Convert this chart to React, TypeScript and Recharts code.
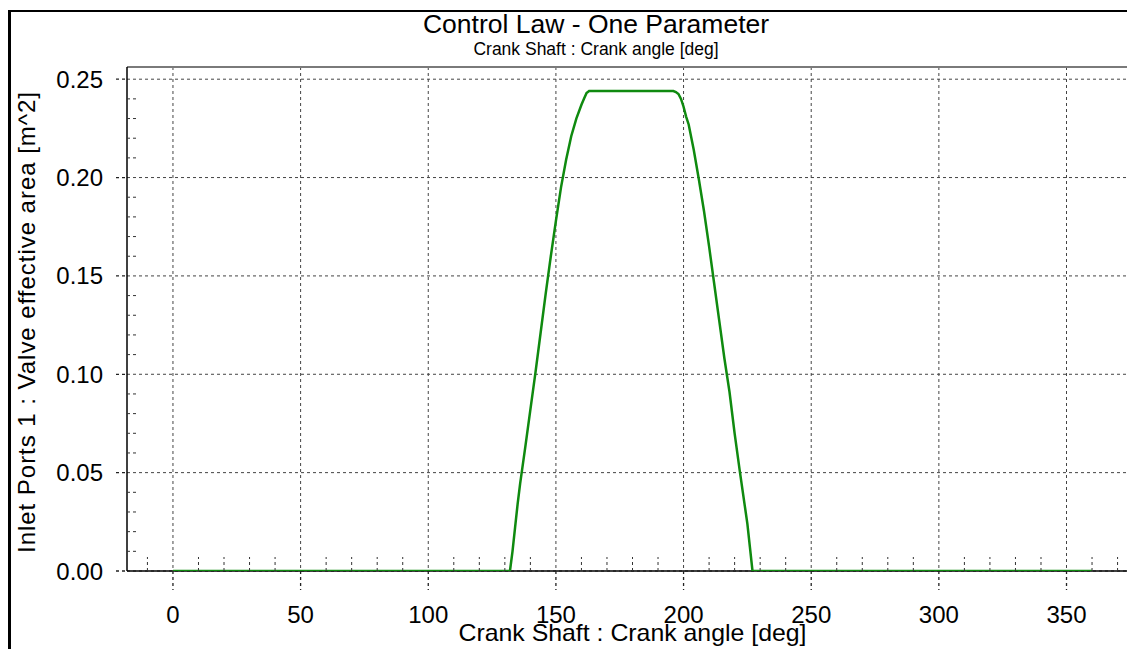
import React from 'react';
import { LineChart, Line, XAxis, YAxis, CartesianGrid, ReferenceLine } from 'recharts';

const crankAngle = [
  0, 132, 133, 134, 135, 136, 138, 140, 142, 144, 146, 148, 150, 152, 154, 156, 158, 160, 161, 162, 163,
  196, 197, 198, 199, 200, 201, 202, 204, 206, 208, 210, 212, 214, 216, 218, 220, 222, 224, 225, 226, 227, 360,
];
const valveArea = [
  0, 0, 0.010, 0.022, 0.034, 0.0445, 0.063, 0.082, 0.101, 0.121, 0.141, 0.160, 0.178, 0.195, 0.209, 0.221, 0.230, 0.237, 0.240, 0.243, 0.244,
  0.244, 0.2435, 0.2425, 0.240, 0.236, 0.231, 0.227, 0.214, 0.199, 0.183, 0.165, 0.146, 0.127, 0.108, 0.091, 0.070, 0.051, 0.033, 0.024, 0.012, 0, 0,
];

const xMajorTicks = [0, 50, 100, 150, 200, 250, 300, 350];
const xAllTicks = [-10, 0, 10, 20, 30, 40, 50, 60, 70, 80, 90, 100, 110, 120, 130, 140, 150, 160, 170, 180, 190, 200, 210, 220, 230, 240, 250, 260, 270, 280, 290, 300, 310, 320, 330, 340, 350, 360, 370];
const yMajorTicks = [0, 0.05, 0.1, 0.15, 0.2, 0.25];
const yAllTicks = [0, 0.01, 0.02, 0.03, 0.04, 0.05, 0.06, 0.07, 0.08, 0.09, 0.1, 0.11, 0.12, 0.13, 0.14, 0.15, 0.16, 0.17, 0.18, 0.19, 0.2, 0.21, 0.22, 0.23, 0.24, 0.25];
const xDomain: [number, number] = [-18, 378];
const yDomain: [number, number] = [0, 0.2562];

const title = 'Control Law - One Parameter';
const subtitle = 'Crank Shaft : Crank angle [deg]';
const xLabel = 'Crank Shaft : Crank angle [deg]';
const yLabel = 'Inlet Ports 1 : Valve effective area [m^2]';

const data = crankAngle.map((a, i) => ({ angle: a, area: valveArea[i] }));

const FONT = '"Liberation Sans", Arial, sans-serif';
const TICK_STROKE = '#333';
const MAJOR_TICK_STROKE = '#222';
const DASH = '3 3';

const isMajor = (list: number[], v: number) => list.some((m) => Math.abs(m - v) < 1e-9);

const XTick = (props: any) => {
  const { x, y, payload } = props;
  if (!isMajor(xMajorTicks, payload.value)) {
    return <line x1={x} y1={y} x2={x} y2={y - 14} stroke={TICK_STROKE} strokeDasharray={DASH} />;
  }
  return (
    <g>
      <line x1={x} y1={y} x2={x} y2={y + 19} stroke={MAJOR_TICK_STROKE} strokeWidth={1.3} strokeDasharray={DASH} />
      <text x={x} y={y + 35} dy="0.71em" textAnchor="middle" fontSize={24} fontFamily={FONT} fill="#000">
        {payload.value}
      </text>
    </g>
  );
};

const YTick = (props: any) => {
  const { x, y, payload } = props;
  if (!isMajor(yMajorTicks, payload.value)) {
    return <line x1={x} y1={y} x2={x + 11} y2={y} stroke={TICK_STROKE} strokeDasharray={DASH} />;
  }
  return (
    <g>
      <line x1={x - 11} y1={y} x2={x} y2={y} stroke={MAJOR_TICK_STROKE} strokeWidth={1.3} strokeDasharray={DASH} />
      <text x={x - 24} y={y} dy="0.355em" textAnchor="end" fontSize={24} fontFamily={FONT} fill="#000">
        {Number(payload.value).toFixed(2)}
      </text>
    </g>
  );
};

export default function App() {
  return (
    <div style={{ position: 'relative', width: 1127, height: 641, overflow: 'hidden', background: '#fff' }}>
      <LineChart
        width={1200}
        height={641}
        data={data}
        margin={{ top: 59, right: 70, bottom: 18, left: 59 }}
      >
        <CartesianGrid
          stroke="#444"
          strokeDasharray={DASH}
          verticalValues={xMajorTicks}
          horizontalValues={yMajorTicks}
        />
        <XAxis
          dataKey="angle"
          type="number"
          domain={xDomain}
          allowDataOverflow
          ticks={xAllTicks}
          interval={0}
          height={60}
          tickSize={0}
          tickMargin={0}
          tick={<XTick />}
          tickLine={false}
          axisLine={false}
        />
        <YAxis
          type="number"
          domain={yDomain}
          allowDataOverflow
          ticks={yAllTicks}
          interval={0}
          width={60}
          tickSize={0}
          tickMargin={0}
          tick={<YTick />}
          tickLine={false}
          axisLine={false}
        />
        <ReferenceLine y={yDomain[1]} stroke="#7a7a7a" strokeWidth={2} ifOverflow="visible" />
        <ReferenceLine y={0} stroke="#000" strokeWidth={1.5} ifOverflow="visible" />
        <ReferenceLine x={xDomain[0]} stroke="#000" strokeWidth={1.5} ifOverflow="visible" />
        <Line
          type="linear"
          dataKey="area"
          stroke="#0f8a0f"
          strokeWidth={2.5}
          dot={false}
          isAnimationActive={false}
        />
      </LineChart>
      <svg
        width={1127}
        height={641}
        style={{ position: 'absolute', left: 0, top: 0, pointerEvents: 'none' }}
      >
        <line x1={0} y1={3} x2={1127} y2={3} stroke="#000" strokeWidth={2} />
        <line x1={1.5} y1={2} x2={1.5} y2={641} stroke="#000" strokeWidth={3} />
        <text x={588} y={25} textAnchor="middle" fontSize={26.5} fontFamily={FONT} fill="#000">
          {title}
        </text>
        <text x={588} y={47} textAnchor="middle" fontSize={17.5} fontFamily={FONT} fill="#000">
          {subtitle}
        </text>
        <text x={624.5} y={632.5} textAnchor="middle" fontSize={24} fontFamily={FONT} fill="#000" textLength={348} lengthAdjust="spacingAndGlyphs">
          {xLabel}
        </text>
        <text
          transform="translate(27 314.5) rotate(-90)"
          textAnchor="middle"
          fontSize={24}
          fontFamily={FONT}
          fill="#000"
          textLength={461}
          lengthAdjust="spacing"
        >
          {yLabel}
        </text>
      </svg>
    </div>
  );
}
